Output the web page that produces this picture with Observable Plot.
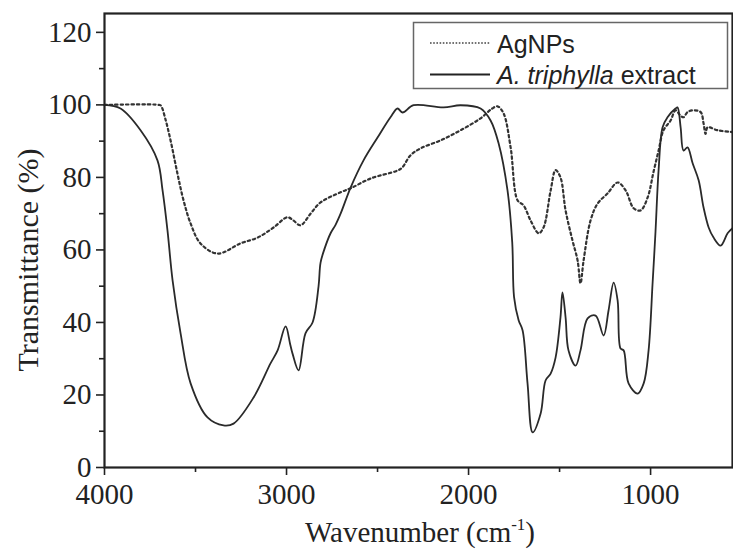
<!DOCTYPE html>
<html>
<head>
<meta charset="utf-8">
<script src="https://cdn.jsdelivr.net/npm/d3@7"></script>
<script src="https://cdn.jsdelivr.net/npm/@observablehq/plot@0.6"></script>
<style>
  body { margin: 0; background: #fff; }
  #wrap { position: relative; width: 733px; height: 552px; overflow: hidden; }
  .ytitle { position: absolute; left: 28px; top: 260px; transform: translate(-50%, -50%) rotate(-90deg);
    font-family: "Liberation Serif", "Times New Roman", serif; font-size: 30px; color: #222; white-space: nowrap; }
  .xtitle { position: absolute; left: 420px; top: 518px; transform: translateX(-50%);
    font-family: "Liberation Serif", "Times New Roman", serif; font-size: 29px; color: #222; white-space: nowrap; line-height: 1; }
  .xtitle sup { font-size: 17px; vertical-align: 12px; line-height: 0; }
  #legend { position: absolute; left: 0; top: 0; }
</style>
</head>
<body>
<div id="wrap"></div>
<script>
// AgNPs (dotted)
const agWave = [4000,3700,3690,3665,3637,3599,3566,3527,3473,3379,3253,3159,3071,2995,2962,2923,2868,2813,2703,2648,2538,2390,2363,2319,2264,2154,2044,1934,1870,1841,1808,1769,1731,1698,1659,1615,1588,1549,1522,1495,1467,1429,1401,1385,1368,1330,1291,1236,1181,1137,1093,1055,1016,984,956,929,890,863,835,819,797,769,725,709,698,687,632,550];
const agT    = [100,100,99.8,96,90.2,81,73.7,67.3,61.8,59,61.8,63.4,66.2,69,68.1,66.8,70,73.1,75.9,77,79.7,81.9,82.8,86.1,88,90.2,93,96.3,99,99.6,97.7,88.3,73.7,72.3,68.1,64.6,66.2,76.4,82,80,70.9,62.6,57.1,50.8,57.1,68.1,72.8,75.6,78.6,76.4,71.5,70.9,74.5,81.5,87.4,93,95.7,98.5,97,96.6,98,98.5,98,94.9,92,93.8,93,92.5];

// A. triphylla extract (solid)
const exWave = [4000,3912,3802,3709,3681,3654,3626,3582,3527,3434,3346,3291,3181,3088,3049,3005,2980,2967,2934,2896,2857,2824,2813,2790,2758,2730,2703,2648,2577,2500,2429,2390,2363,2302,2137,2044,1934,1879,1835,1786,1760,1750,1725,1703,1676,1648,1604,1577,1549,1522,1495,1484,1467,1451,1412,1385,1346,1302,1258,1231,1203,1181,1165,1148,1121,1071,1038,1011,989,973,956,934,907,863,852,835,819,797,769,736,709,681,654,615,577,550];
const exT    = [100,99,93,84.7,76.4,65.4,51.6,37,23.2,13.8,11.6,12.1,19.3,28.7,32.3,38.9,34,31.4,26.8,37,40,50,56.5,60.5,64.6,67,70,77.2,84.7,91,96.6,99,97.9,99.9,99.3,99.9,99,95.7,89.4,76.4,62,47,40.6,37.8,23.2,9.7,14.9,24,25.9,30.3,41.4,48.3,41.4,32.3,28.1,32.3,41.1,41.9,36.4,43.3,51,46,32.8,32.3,23.2,20.4,23.2,32.3,50.8,65,82,93.8,96.6,99,99.3,93.8,87.4,88.3,83.9,79.2,71.7,66.2,63.4,61.2,64.6,66];

const xMajor = [4000, 3000, 2000, 1000];
const xMinor = [3500, 2500, 1500];
const yMajor = [0, 20, 40, 60, 80, 100, 120];
const yMinor = [10, 30, 50, 70, 90, 110];
const seriesNames = ["AgNPs", "A. triphylla extract"];

const ag = agWave.map((w, i) => ({w, t: agT[i]}));
const ex = exWave.map((w, i) => ({w, t: exT[i]}));

const chart = Plot.plot({
  width: 733,
  height: 552,
  marginLeft: 104,
  marginRight: 1,
  marginTop: 13,
  marginBottom: 85,
  x: {domain: [4000, 550]},
  y: {domain: [0, 125.2]},
  style: {fontFamily: "'Liberation Serif', 'Times New Roman', serif", fontSize: "29px", color: "#222", background: "#fff"},
  marks: [
    Plot.axisX({ticks: xMajor, tickSize: 8, tickPadding: 8, tickFormat: d3.format("d"), label: null, strokeWidth: 1.6}),
    Plot.axisX({ticks: xMinor, tickSize: 5, text: null, label: null, strokeWidth: 1.6}),
    Plot.axisY({ticks: yMajor, tickSize: 8, tickPadding: 5, tickFormat: d3.format("d"), label: null, strokeWidth: 1.6}),
    Plot.axisY({ticks: yMinor, tickSize: 5, text: null, label: null, strokeWidth: 1.6}),
    Plot.line(ag, {x: "w", y: "t", curve: "catmull-rom", stroke: "#333", strokeWidth: 2.2, strokeDasharray: "2.4,3"}),
    Plot.line(ex, {x: "w", y: "t", curve: "catmull-rom", stroke: "#2a2a2a", strokeWidth: 1.8}),
    Plot.frame({stroke: "#222", strokeWidth: 2.2})
  ]
});

const wrap = document.getElementById("wrap");
wrap.appendChild(chart);

const yt = document.createElement("div");
yt.className = "ytitle";
yt.textContent = "Transmittance (%)";
wrap.appendChild(yt);

const xt = document.createElement("div");
xt.className = "xtitle";
xt.innerHTML = "Wavenumber (cm<sup>-1</sup>)";
wrap.appendChild(xt);

// Legend overlay
const ns = "http://www.w3.org/2000/svg";
const lg = document.createElementNS(ns, "svg");
lg.setAttribute("id", "legend");
lg.setAttribute("width", 733);
lg.setAttribute("height", 120);
lg.innerHTML = `
  <rect x="413.5" y="22.5" width="314" height="66" fill="#fff" stroke="#666" stroke-width="1.5"/>
  <line x1="430" x2="490" y1="43" y2="43" stroke="#444" stroke-width="1.3" stroke-dasharray="1.6,1.6"/>
  <line x1="430" x2="490" y1="74.5" y2="74.5" stroke="#222" stroke-width="1.8"/>
  <text x="497" y="53" font-family="'Liberation Sans', Arial, sans-serif" font-size="25" fill="#222">${seriesNames[0]}</text>
  <text x="497" y="83.5" font-family="'Liberation Sans', Arial, sans-serif" font-size="25" fill="#222"><tspan font-style="italic">A. triphylla</tspan> extract</text>
`;
wrap.appendChild(lg);
</script>
</body>
</html>
